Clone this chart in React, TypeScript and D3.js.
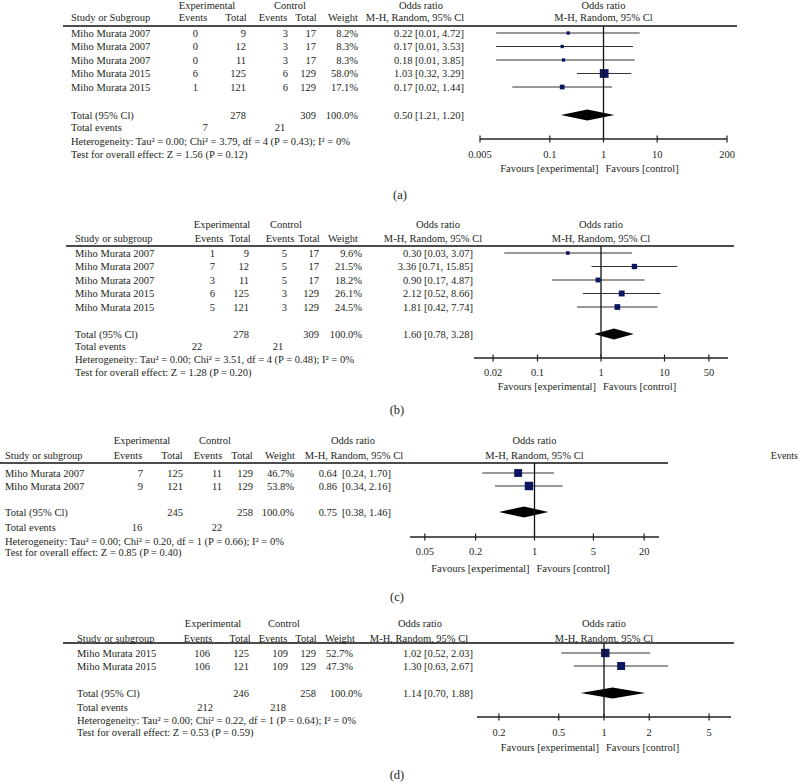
import React from "react";
import * as d3 from "d3";

// ---------- DATA ----------
const studiesA = ["Miho Murata 2007", "Miho Murata 2007", "Miho Murata 2007", "Miho Murata 2015", "Miho Murata 2015"];
const expEventsA = [0, 0, 0, 6, 1];
const expTotalA = [9, 12, 11, 125, 121];
const ctrlEventsA = [3, 3, 3, 6, 6];
const ctrlTotalA = [17, 17, 17, 129, 129];
const weightA = [8.2, 8.3, 8.3, 58.0, 17.1];
const orA = [0.22, 0.17, 0.18, 1.03, 0.17];
const lowA = [0.01, 0.01, 0.01, 0.32, 0.02];
const highA = [4.72, 3.53, 3.85, 3.29, 1.44];
const totalA = { expTotal: 278, ctrlTotal: 309, expEvents: 7, ctrlEvents: 21, or: 0.5, low: 1.21, high: 1.2, diamondLow: 0.16, diamondHigh: 1.6 };
const hetA = "Heterogeneity: Tau² = 0.00; Chi² = 3.79, df = 4 (P = 0.43); I² = 0%";
const testA = "Test for overall effect: Z = 1.56 (P = 0.12)";
const ticksA = [0.005, 0.1, 1, 10, 200];

const studiesB = ["Miho Murata 2007", "Miho Murata 2007", "Miho Murata 2007", "Miho Murata 2015", "Miho Murata 2015"];
const expEventsB = [1, 7, 3, 6, 5];
const expTotalB = [9, 12, 11, 125, 121];
const ctrlEventsB = [5, 5, 5, 3, 3];
const ctrlTotalB = [17, 17, 17, 129, 129];
const weightB = [9.6, 21.5, 18.2, 26.1, 24.5];
const orB = [0.3, 3.36, 0.9, 2.12, 1.81];
const lowB = [0.03, 0.71, 0.17, 0.52, 0.42];
const highB = [3.07, 15.85, 4.87, 8.66, 7.74];
const totalB = { expTotal: 278, ctrlTotal: 309, expEvents: 22, ctrlEvents: 21, or: 1.6, low: 0.78, high: 3.28, diamondLow: 0.78, diamondHigh: 3.28 };
const hetB = "Heterogeneity: Tau² = 0.00; Chi² = 3.51, df = 4 (P = 0.48); I² = 0%";
const testB = "Test for overall effect: Z = 1.28 (P = 0.20)";
const ticksB = [0.02, 0.1, 1, 10, 50];

const studiesC = ["Miho Murata 2007", "Miho Murata 2007"];
const expEventsC = [7, 9];
const expTotalC = [125, 121];
const ctrlEventsC = [11, 11];
const ctrlTotalC = [129, 129];
const weightC = [46.7, 53.8];
const orC = [0.64, 0.86];
const lowC = [0.24, 0.34];
const highC = [1.7, 2.16];
const totalC = { expTotal: 245, ctrlTotal: 258, expEvents: 16, ctrlEvents: 22, or: 0.75, low: 0.38, high: 1.46, diamondLow: 0.38, diamondHigh: 1.46 };
const hetC = "Heterogeneity: Tau² = 0.00; Chi² = 0.20, df = 1 (P = 0.66); I² = 0%";
const testC = "Test for overall effect: Z = 0.85 (P = 0.40)";
const ticksC = [0.05, 0.2, 1, 5, 20];

const studiesD = ["Miho Murata 2015", "Miho Murata 2015"];
const expEventsD = [106, 106];
const expTotalD = [125, 121];
const ctrlEventsD = [109, 109];
const ctrlTotalD = [129, 129];
const weightD = [52.7, 47.3];
const orD = [1.02, 1.3];
const lowD = [0.52, 0.63];
const highD = [2.03, 2.67];
const totalD = { expTotal: 246, ctrlTotal: 258, expEvents: 212, ctrlEvents: 218, or: 1.14, low: 0.7, high: 1.88, diamondLow: 0.7, diamondHigh: 1.88 };
const hetD = "Heterogeneity: Tau² = 0.00; Chi² = 0.22, df = 1 (P = 0.64); I² = 0%";
const testD = "Test for overall effect: Z = 0.53 (P = 0.59)";
const ticksD = [0.2, 0.5, 1, 2, 5];

// ---------- STYLE ----------
const FONT = "'Liberation Serif', 'Times New Roman', serif";
const TXT = "#231f20";
const SQUARE = "#0b1560";
const FS = 10.5;

const f2 = (v: number) => v.toFixed(2);

function ForestPanel({ p }: { p: any }) {
  const x = d3.scaleLog().domain(p.domain).range(p.range);
  const rowY = (i: number) => p.row0 + i * p.rowStep;
  const T = (props: any) => (
    <text fontFamily={FONT} fontSize={FS} fill={TXT} dominantBaseline="central" {...props} />
  );
  const half = 5.5;
  const diamond = [
    [x(p.total.diamondLow), p.totalY],
    [x(p.total.or), p.totalY - half],
    [x(p.total.diamondHigh), p.totalY],
    [x(p.total.or), p.totalY + half],
  ];
  const orText = (o: number, l: number, h: number) => `${f2(o)} [${f2(l)}, ${f2(h)}]`;
  const c = p.cols;
  return (
    <g>
      {/* headers */}
      <T x={p.head1[0]} y={p.h1Y} textAnchor="middle">Experimental</T>
      <T x={p.head1[1]} y={p.h1Y} textAnchor="middle">Control</T>
      <T x={p.head1[2]} y={p.h1Y} textAnchor="middle">Odds ratio</T>
      <T x={c.study} y={p.h2Y}>{p.studyHeader}</T>
      <T x={p.head2[0]} y={p.h2Y} textAnchor="middle">Events</T>
      <T x={p.head2[1]} y={p.h2Y} textAnchor="middle">Total</T>
      <T x={p.head2[2]} y={p.h2Y} textAnchor="middle">Events</T>
      <T x={p.head2[3]} y={p.h2Y} textAnchor="middle">Total</T>
      <T x={p.head2[4]} y={p.h2Y} textAnchor="middle">Weight</T>
      <T x={p.head2[5]} y={p.h2Y} textAnchor="middle">M-H, Random, 95% Cl</T>
      <T x={x(1)} y={p.h1Y} textAnchor="middle">Odds ratio</T>
      <T x={x(1)} y={p.h2Y} textAnchor="middle">M-H, Random, 95% Cl</T>
      <line x1={p.lineX[0]} x2={p.lineX[1]} y1={p.lineY} y2={p.lineY} stroke="#111" strokeWidth={1.3} />

      {/* study rows */}
      {p.studies.map((s: string, i: number) => {
        const y = rowY(i);
        const side = 1.15 * Math.sqrt(p.weight[i]);
        return (
          <g key={i}>
            <T x={c.study} y={y}>{s}</T>
            <T x={c.expEv} y={y} textAnchor="end">{p.expEvents[i]}</T>
            <T x={c.expTot} y={y} textAnchor="end">{p.expTotal[i]}</T>
            <T x={c.ctrlEv} y={y} textAnchor="end">{p.ctrlEvents[i]}</T>
            <T x={c.ctrlTot} y={y} textAnchor="end">{p.ctrlTotal[i]}</T>
            <T x={c.weight} y={y} textAnchor="end">{p.weight[i].toFixed(1)}%</T>
            {p.splitOR ? (
              <>
                <T x={c.or} y={y} textAnchor="end">{f2(p.or[i])}</T>
                <T x={c.or + 5} y={y}>{`[${f2(p.low[i])}, ${f2(p.high[i])}]`}</T>
              </>
            ) : (
              <T x={c.or} y={y} textAnchor="end">{orText(p.or[i], p.low[i], p.high[i])}</T>
            )}
            <line x1={x(p.low[i])} x2={x(p.high[i])} y1={y} y2={y} stroke="#333" strokeWidth={1.2} />
            <rect x={x(p.or[i]) - side / 2} y={y - side / 2} width={side} height={side} fill={SQUARE} />
          </g>
        );
      })}

      {/* totals */}
      <T x={c.study} y={p.totalY}>Total (95% Cl)</T>
      <T x={c.expTot} y={p.totalY} textAnchor="end">{p.total.expTotal}</T>
      <T x={c.ctrlTot} y={p.totalY} textAnchor="end">{p.total.ctrlTotal}</T>
      <T x={c.totalWeight} y={p.totalY} textAnchor="end">100.0%</T>
      {p.splitOR ? (
        <>
          <T x={c.or} y={p.totalY} textAnchor="end">{f2(p.total.or)}</T>
          <T x={c.or + 5} y={p.totalY}>{`[${f2(p.total.low)}, ${f2(p.total.high)}]`}</T>
        </>
      ) : (
        <T x={c.or} y={p.totalY} textAnchor="end">{orText(p.total.or, p.total.low, p.total.high)}</T>
      )}
      <polygon points={diamond.map((d) => d.join(",")).join(" ")} fill="#000" />
      <T x={c.study} y={p.eventsY}>Total events</T>
      <T x={p.evCenters[0]} y={p.eventsY} textAnchor="middle">{p.total.expEvents}</T>
      <T x={p.evCenters[1]} y={p.eventsY} textAnchor="middle">{p.total.ctrlEvents}</T>
      <T x={c.study} y={p.hetY}>{p.het}</T>
      <T x={c.study} y={p.testY}>{p.test}</T>

      {/* axis */}
      <line x1={x(1)} x2={x(1)} y1={p.lineY} y2={p.axisY} stroke="#111" strokeWidth={1.3} />
      <line x1={p.range[0]} x2={p.range[1]} y1={p.axisY} y2={p.axisY} stroke="#222" strokeWidth={1.3} />
      {p.ticks.map((t: number) => (
        <g key={t}>
          <line x1={x(t)} x2={x(t)} y1={p.axisY - 3.5} y2={p.axisY + 3.5} stroke="#222" strokeWidth={1.2} />
          <T x={x(t)} y={p.tickY} textAnchor="middle">{String(t)}</T>
        </g>
      ))}
      <T x={x(1) - 5} y={p.favY} textAnchor="end">Favours [experimental]</T>
      <T x={x(1) + 2} y={p.favY}>Favours [control]</T>

      <text x={p.labelX} y={p.labelY} fontFamily={FONT} fontSize={12.5} fill={TXT} textAnchor="middle" dominantBaseline="central">{p.label}</text>
    </g>
  );
}

const panels = [
  {
    studies: studiesA, expEvents: expEventsA, expTotal: expTotalA, ctrlEvents: ctrlEventsA, ctrlTotal: ctrlTotalA,
    weight: weightA, or: orA, low: lowA, high: highA, total: totalA, het: hetA, test: testA, ticks: ticksA,
    studyHeader: "Study or Subgroup",
    domain: [0.005, 200], range: [480, 727],
    h1Y: 5, h2Y: 17, lineY: 26, lineX: [63, 737], row0: 33, rowStep: 13.5,
    totalY: 115, eventsY: 127, hetY: 141, testY: 154, axisY: 139, tickY: 154, favY: 168,
    head1: [207, 290, 421], head2: [193, 236, 273, 306, 343, 415],
    cols: { study: 71, expEv: 198, expTot: 246, ctrlEv: 288, ctrlTot: 316, weight: 358, totalWeight: 358, or: 464 },
    evCenters: [205, 280], splitOR: false,
    label: "(a)", labelX: 400, labelY: 195,
  },
  {
    studies: studiesB, expEvents: expEventsB, expTotal: expTotalB, ctrlEvents: ctrlEventsB, ctrlTotal: ctrlTotalB,
    weight: weightB, or: orB, low: lowB, high: highB, total: totalB, het: hetB, test: testB, ticks: ticksB,
    studyHeader: "Study or subgroup",
    domain: [0.01, 100], range: [474, 728],
    h1Y: 224, h2Y: 238, lineY: 246, lineX: [66, 734], row0: 253, rowStep: 13.5,
    totalY: 334, eventsY: 346, hetY: 359, testY: 372, axisY: 358, tickY: 372, favY: 386,
    head1: [222, 286, 438], head2: [209, 240, 280, 309, 343, 433],
    cols: { study: 75, expEv: 215, expTot: 249, ctrlEv: 287, ctrlTot: 319, weight: 362, totalWeight: 362, or: 473 },
    evCenters: [197, 278], splitOR: false,
    label: "(b)", labelX: 397, labelY: 410,
  },
  {
    studies: studiesC, expEvents: expEventsC, expTotal: expTotalC, ctrlEvents: ctrlEventsC, ctrlTotal: ctrlTotalC,
    weight: weightC, or: orC, low: lowC, high: highC, total: totalC, het: hetC, test: testC, ticks: ticksC,
    studyHeader: "Study or subgroup",
    domain: [1 / 30, 30], range: [410, 659],
    h1Y: 440, h2Y: 455, lineY: 463, lineX: [0, 668], row0: 473, rowStep: 13,
    totalY: 512, eventsY: 527, hetY: 541, testY: 552, axisY: 537, tickY: 551, favY: 568,
    head1: [142, 215, 353], head2: [128, 172, 208, 242, 280, 354],
    cols: { study: 5, expEv: 143, expTot: 183, ctrlEv: 222, ctrlTot: 253, weight: 294, totalWeight: 294, or: 337 },
    evCenters: [137, 217], splitOR: true,
    label: "(c)", labelX: 397, labelY: 597,
  },
  {
    studies: studiesD, expEvents: expEventsD, expTotal: expTotalD, ctrlEvents: ctrlEventsD, ctrlTotal: ctrlTotalD,
    weight: weightD, or: orD, low: lowD, high: highD, total: totalD, het: hetD, test: testD, ticks: ticksD,
    studyHeader: "Study or subgroup",
    domain: [1 / 7, 7], range: [477, 731],
    h1Y: 623, h2Y: 638, lineY: 643, lineX: [63, 734], row0: 653, rowStep: 13,
    totalY: 693, eventsY: 707, hetY: 720, testY: 732, axisY: 717, tickY: 732, favY: 747,
    head1: [213, 284, 420], head2: [198, 240, 273, 306, 340, 419],
    cols: { study: 77, expEv: 210, expTot: 249, ctrlEv: 288, ctrlTot: 316, weight: 353, totalWeight: 362, or: 473 },
    evCenters: [205, 278], splitOR: false,
    label: "(d)", labelX: 397, labelY: 775,
  },
];

export default function App() {
  return (
    <svg width={800} height={784} style={{ position: "absolute", left: 0, top: 0, background: "#fff" }}>
      <rect width={800} height={784} fill="#fff" />
      {panels.map((p, i) => (
        <ForestPanel key={i} p={p} />
      ))}
      <text x={798} y={455} fontFamily={FONT} fontSize={10} fill={TXT} textAnchor="end" dominantBaseline="central">Events</text>
    </svg>
  );
}
